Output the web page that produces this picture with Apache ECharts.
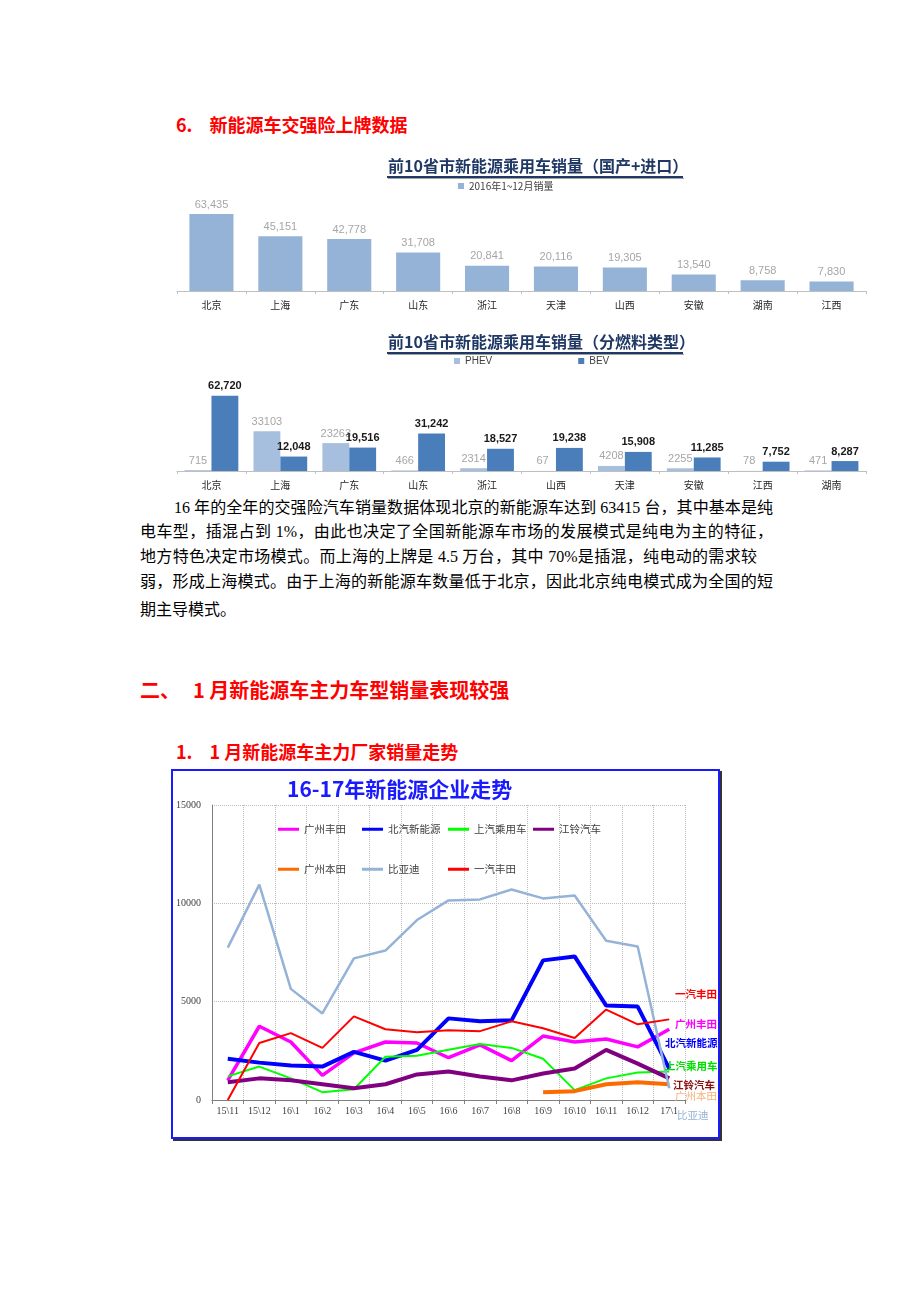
<!DOCTYPE html>
<html>
<head>
<meta charset="utf-8">
<script src="https://cdn.jsdelivr.net/npm/echarts/dist/echarts.min.js"></script>
<style>
  html, body { margin: 0; padding: 0; background: #fff; }
  body { width: 920px; height: 1302px; position: relative; overflow: hidden;
         font-family: "Noto Sans CJK SC", sans-serif; }
  .abs { position: absolute; white-space: nowrap; }
  .h-red { color: #ff0000; font-weight: bold; }
  .para { font-family: "Liberation Serif", "Noto Sans CJK SC", serif; font-size: 16px; line-height: 16px;
          color: #000; text-align: justify; text-align-last: justify; white-space: nowrap; }
  #frame3 { position: absolute; left: 171px; top: 769px; width: 545px; height: 366px;
            border: 2px solid #1a1aff; box-shadow: 2px 2px 0 #333; }
</style>
</head>
<body>
<div class="abs h-red" style="left:176px;top:114px;font-size:18px;line-height:20px;">6.<span style="display:inline-block;width:17px"></span>新能源车交强险上牌数据</div>

<div id="c1" class="abs" style="left:170px;top:150px;width:710px;height:165px;"></div>
<div id="c2" class="abs" style="left:170px;top:330px;width:710px;height:165px;"></div>

<div class="abs para" style="left:174px;top:500px;width:599px;">16 年的全年的交强险汽车销量数据体现北京的新能源车达到 63415 台，其中基本是纯</div>
<div class="abs para" style="left:140px;top:524px;width:633px;">电车型，插混占到 1%，由此也决定了全国新能源车市场的发展模式是纯电为主的特征，</div>
<div class="abs para" style="left:140px;top:549px;width:617px;">地方特色决定市场模式。而上海的上牌是 4.5 万台，其中 70%是插混，纯电动的需求较</div>
<div class="abs para" style="left:140px;top:574px;width:633px;">弱，形成上海模式。由于上海的新能源车数量低于北京，因此北京纯电模式成为全国的短</div>
<div class="abs para" style="left:140px;top:602px;text-align-last:left;">期主导模式。</div>

<div class="abs h-red" style="left:140px;top:679px;font-size:20px;line-height:22px;">二、<span style="display:inline-block;width:13px"></span>1 月新能源车主力车型销量表现较强</div>
<div class="abs h-red" style="left:176px;top:741px;font-size:18px;line-height:20px;">1.<span style="display:inline-block;width:17px"></span>1 月新能源车主力厂家销量走势</div>

<div id="frame3"></div>
<div id="c3" class="abs" style="left:171px;top:769px;width:549px;height:370px;"></div>

<script>
// ---------- data ----------
const provinces1 = ['北京','上海','广东','山东','浙江','天津','山西','安徽','湖南','江西'];
const sales2016 = [63435,45151,42778,31708,20841,20116,19305,13540,8758,7830];

const provinces2 = ['北京','上海','广东','山东','浙江','山西','天津','安徽','江西','湖南'];
const phevSales = [715,33103,23263,466,2314,67,4208,2255,78,471];
const bevSales  = [62720,12048,19516,31242,18527,19238,15908,11285,7752,8287];

const months = ['15\\11','15\\12','16\\1','16\\2','16\\3','16\\4','16\\5','16\\6','16\\7','16\\8','16\\9','16\\10','16\\11','16\\12','17\\1'];
const gzToyota   = [1000,3750,2950,1250,2400,2950,2900,2150,2800,2000,3250,2950,3100,2700,3600];
const baicNev    = [2100,1900,1750,1700,2450,2000,2550,4150,4000,4050,7100,7300,4800,4750,1600];
const saicPv     = [1200,1700,1100,400,550,2200,2250,2550,2850,2650,2100,500,1100,1400,1450];
const jmc        = [900,1100,1000,800,600,800,1300,1450,1200,1000,1350,1600,2550,1850,1100];
const gzHonda    = [null,null,null,null,null,null,null,null,null,null,400,450,800,900,800];
const byd        = [7750,10950,5650,4400,7200,7600,9150,10150,10200,10700,10250,10400,8100,7800,600];
const fawToyota  = [0,2900,3400,2650,4250,3600,3450,3550,3500,4000,3650,3150,4600,3850,4100];
const yTicks3 = [0, 5000, 10000, 15000];

const fmt = v => v.toLocaleString('en-US');
const CJK = '"Noto Sans CJK SC", sans-serif';
const SERIF = '"Liberation Serif", "DejaVu Serif", serif';

// ---------- chart 1 ----------
const c1 = echarts.init(document.getElementById('c1'));
c1.setOption({
  animation: false,
  title: { text: '前10省市新能源乘用车销量（国产+进口）', left: 218, top: 8, padding: 0,
    textStyle: { fontFamily: CJK, fontSize: 16, fontWeight: 'bold', color: '#1f3864' } },
  graphic: [
    { type: 'rect', shape: { x: 217, y: 26, width: 296, height: 2 }, style: { fill: '#1f3864' } },
    { type: 'rect', shape: { x: 218, y: 28, width: 296, height: 1 }, style: { fill: '#a0a0a0' } }
  ],
  legend: { left: 288, top: 31, icon: 'rect', itemWidth: 6, itemHeight: 6, itemGap: 5, padding: 0,
    textStyle: { fontFamily: CJK, fontSize: 10, color: '#404040' } },
  grid: { left: 7, right: 14, top: 50, bottom: 24 },
  xAxis: { type: 'category', data: provinces1,
    axisLine: { lineStyle: { color: '#bfbfbf' } },
    axisTick: { show: true, length: 3, lineStyle: { color: '#bfbfbf' } },
    axisLabel: { fontFamily: CJK, fontSize: 10, color: '#262626', margin: 9 } },
  yAxis: { type: 'value', min: 0, max: 75000, show: false, splitLine: { show: false } },
  series: [{ name: '2016年1~12月销量', type: 'bar', data: sales2016, barWidth: '64%',
    itemStyle: { color: '#95b3d7' },
    label: { show: true, position: 'top', distance: 4, formatter: p => fmt(p.value),
      fontFamily: '"Liberation Sans", Arial, sans-serif', fontSize: 11, color: '#a6a6a6' } }]
});

// ---------- chart 2 ----------
const c2 = echarts.init(document.getElementById('c2'));
c2.setOption({
  animation: false,
  title: { text: '前10省市新能源乘用车销量（分燃料类型）', left: 218, top: 4, padding: 0,
    textStyle: { fontFamily: CJK, fontSize: 16, fontWeight: 'bold', color: '#1f3864' } },
  graphic: [
    { type: 'rect', shape: { x: 217, y: 22, width: 296, height: 2 }, style: { fill: '#1f3864' } },
    { type: 'rect', shape: { x: 218, y: 24, width: 296, height: 1 }, style: { fill: '#a0a0a0' } }
  ],
  legend: { left: 284, top: 26, icon: 'rect', itemWidth: 6, itemHeight: 6, itemGap: 86, padding: 0,
    textStyle: { fontFamily: '"Liberation Sans", Arial, sans-serif', fontSize: 10, color: '#404040' } },
  grid: { left: 7, right: 14, top: 51, bottom: 24 },
  xAxis: { type: 'category', data: provinces2,
    axisLine: { lineStyle: { color: '#bfbfbf' } },
    axisTick: { show: true, length: 3, lineStyle: { color: '#bfbfbf' } },
    axisLabel: { fontFamily: CJK, fontSize: 10, color: '#262626', margin: 9 } },
  yAxis: { type: 'value', min: 0, max: 75000, show: false, splitLine: { show: false } },
  series: [
    { name: 'PHEV', type: 'bar', data: phevSales, barWidth: '39%', barGap: '0%',
      itemStyle: { color: '#a7bfde' },
      label: { show: true, position: 'top', distance: 4,
        fontFamily: '"Liberation Sans", Arial, sans-serif', fontSize: 11, color: '#a6a6a6' } },
    { name: 'BEV', type: 'bar', data: bevSales, barWidth: '39%',
      itemStyle: { color: '#4a7ebb' },
      label: { show: true, position: 'top', distance: 4, formatter: p => fmt(p.value),
        fontFamily: '"Liberation Sans", Arial, sans-serif', fontSize: 11, fontWeight: 'bold', color: '#1a1a1a' } }
  ]
});

// ---------- chart 3 ----------
const seriesDefs = [
  { name: '广州丰田', data: gzToyota, color: '#ff00ff', width: 3.5 },
  { name: '北汽新能源', data: baicNev, color: '#0000ff', width: 4 },
  { name: '上汽乘用车', data: saicPv, color: '#00ff00', width: 2 },
  { name: '江铃汽车', data: jmc, color: '#800080', width: 4 },
  { name: '广州本田', data: gzHonda, color: '#ff6a00', width: 4 },
  { name: '比亚迪', data: byd, color: '#95b3d7', width: 2.5 },
  { name: '一汽丰田', data: fawToyota, color: '#ff0000', width: 2 }
];
const legendPos = [
  [107, 55], [191, 55], [277, 55], [362, 55],
  [107, 95], [191, 95], [277, 95]
];
const legends = seriesDefs.map((s, i) => ({
  data: [s.name], left: legendPos[i][0], top: legendPos[i][1], padding: 0,
  icon: 'rect', itemWidth: 21, itemHeight: 3, selectedMode: false,
  textStyle: { fontFamily: CJK, fontSize: 10.5, color: '#404040' }
}));
const endLabels = [
  { text: '一汽丰田', x: 504, y: 227, fill: '#ff0000', w: 'bold' },
  { text: '广州丰田', x: 504, y: 257, fill: '#ff00ff', w: 'bold' },
  { text: '北汽新能源', x: 494, y: 276, fill: '#0000ff', w: 'bold' },
  { text: '上汽乘用车', x: 494, y: 299, fill: '#00e000', w: 'bold' },
  { text: '江铃汽车', x: 502, y: 318, fill: '#8b1010', w: 'bold' },
  { text: '广州本田', x: 504, y: 329, fill: '#f6b07a', w: 'normal' },
  { text: '比亚迪', x: 506, y: 348, fill: '#95b3d7', w: 'normal' }
];
const c3 = echarts.init(document.getElementById('c3'));
c3.setOption({
  animation: false,
  title: { text: '16-17年新能源企业走势', left: 116, top: 10, padding: 0,
    textStyle: { fontFamily: CJK, fontSize: 21, fontWeight: 'bold', color: '#1a1aff' } },
  legend: legends,
  graphic: endLabels.map(l => ({ type: 'text', left: l.x, top: l.y - 7, z: 100,
    style: { text: l.text, fill: l.fill, font: l.w + ' 10.5px ' + CJK } })),
  grid: { left: 41, right: 35, top: 36, bottom: 39 },
  xAxis: { type: 'category', data: months, boundaryGap: true,
    axisLine: { lineStyle: { color: '#808080', width: 1 } },
    axisTick: { show: true, length: 4, interval: 0, lineStyle: { color: '#808080' } },
    axisLabel: { interval: 0, fontFamily: SERIF, fontSize: 10, color: '#404040', margin: 6 },
    splitLine: { show: true, interval: 0, lineStyle: { type: 'dotted', color: '#bdbdbd' } } },
  yAxis: { type: 'value', min: 0, max: 15000, interval: 5000,
    axisLine: { show: true, lineStyle: { color: '#808080' } },
    axisTick: { show: false },
    axisLabel: { fontFamily: SERIF, fontSize: 10, color: '#404040', margin: 11,
      formatter: v => yTicks3.includes(v) ? String(v) : '' },
    splitLine: { show: true, lineStyle: { type: 'dotted', color: '#bdbdbd' } } },
  series: seriesDefs.map(s => ({
    name: s.name, type: 'line', data: s.data, symbol: 'none', connectNulls: false,
    itemStyle: { color: s.color }, lineStyle: { color: s.color, width: s.width }
  }))
});
</script>
</body>
</html>
